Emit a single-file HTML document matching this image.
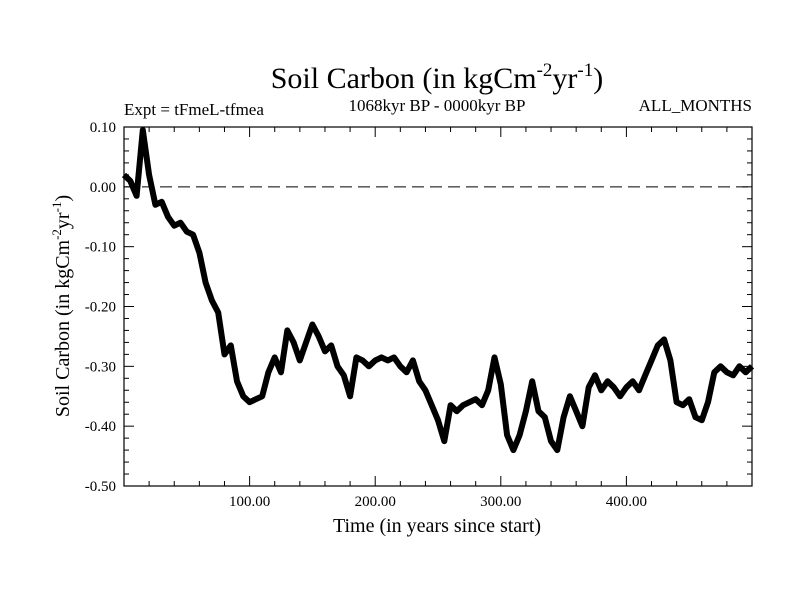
<!DOCTYPE html>
<html><head><meta charset="utf-8"><style>
body{margin:0;background:#fff}
svg text{font-family:"Liberation Serif",serif;fill:#000}
</style></head><body>
<svg id="chart" width="800" height="600" viewBox="0 0 800 600" xmlns="http://www.w3.org/2000/svg">
<rect width="800" height="600" fill="#fff"/>
<text x="437" y="88" font-size="30" text-anchor="middle">Soil Carbon (in kgCm<tspan font-size="19" dy="-12">-2</tspan><tspan dy="12">yr</tspan><tspan font-size="19" dy="-12">-1</tspan><tspan dy="12">)</tspan></text>
<text x="124" y="115" font-size="17">Expt = tFmeL-tfmea</text>
<text x="437" y="111" font-size="17" text-anchor="middle">1068kyr BP - 0000kyr BP</text>
<text x="752" y="111" font-size="17" text-anchor="end">ALL_MONTHS</text>
<text x="437" y="532" font-size="20" text-anchor="middle">Time (in years since start)</text>
<text transform="translate(69,306) rotate(-90)" font-size="20" text-anchor="middle">Soil Carbon (in kgCm<tspan font-size="13" dy="-8">-2</tspan><tspan dy="8">yr</tspan><tspan font-size="13" dy="-8">-1</tspan><tspan dy="8">)</tspan></text>
<g id="ticks"></g>
<line id="zero" stroke="#000" stroke-width="1" stroke-dasharray="12,6"/>
<path id="series" fill="none" stroke="#000" stroke-width="6" stroke-linejoin="round"/>
<rect x="124" y="127" width="628" height="359" fill="none" stroke="#000" stroke-width="1.2"/>
</svg>
<script>
const years = [];
for (let i = 0; i <= 100; i++) years.push(i * 5);
const values = [0.02,0.01,-0.015,0.095,0.02,-0.03,-0.025,-0.05,-0.065,-0.06,-0.075,-0.08,-0.11,-0.16,-0.19,-0.21,-0.28,-0.265,-0.325,-0.35,
-0.36,-0.355,-0.35,-0.31,-0.285,-0.31,-0.24,-0.26,-0.29,-0.26,-0.23,-0.25,-0.275,-0.265,-0.3,-0.315,-0.35,-0.285,-0.29,-0.3,
-0.29,-0.285,-0.29,-0.285,-0.3,-0.31,-0.29,-0.325,-0.34,-0.365,-0.39,-0.425,-0.365,-0.375,-0.365,-0.36,-0.355,-0.365,-0.34,-0.285,
-0.33,-0.415,-0.44,-0.415,-0.375,-0.325,-0.375,-0.385,-0.425,-0.44,-0.385,-0.35,-0.375,-0.4,-0.335,-0.315,-0.34,-0.325,-0.335,-0.35,
-0.335,-0.325,-0.34,-0.315,-0.29,-0.265,-0.255,-0.29,-0.36,-0.365,-0.355,-0.385,-0.39,-0.36,-0.31,-0.3,-0.31,-0.315,-0.3,-0.31,-0.3];
const xTickValues = [100,200,300,400];
const xTickLabels = ["100.00","200.00","300.00","400.00"];
const yTickValues = [0.1,0,-0.1,-0.2,-0.3,-0.4,-0.5];
const yTickLabels = ["0.10","0.00","-0.10","-0.20","-0.30","-0.40","-0.50"];

const X0=124,X1=752,Y0=127,Y1=486;
const xs = t => X0 + (t-0)/(500-0)*(X1-X0);
const ys = v => Y0 + (0.1-v)/(0.1+0.5)*(Y1-Y0);
const NS="http://www.w3.org/2000/svg";
const g=document.getElementById('ticks');
function line(x1,y1,x2,y2){const l=document.createElementNS(NS,'line');l.setAttribute('x1',x1);l.setAttribute('y1',y1);l.setAttribute('x2',x2);l.setAttribute('y2',y2);l.setAttribute('stroke','#000');l.setAttribute('stroke-width','1');


g.appendChild(l);}
function txt(x,y,s,anchor,name){const t=document.createElementNS(NS,'text');t.setAttribute('x',x);t.setAttribute('y',y);t.setAttribute('font-size','15');t.setAttribute('text-anchor',anchor);t.textContent=s;


g.appendChild(t);}
for(let t=20;t<500;t+=20){const major=t%100===0;const L=major?10:5;const x=xs(t);line(x,Y1,x,Y1-L);line(x,Y0,x,Y0+L);}
for(let k=-25;k<=5;k++){const v=k*0.02;const major=k%5===0;const L=major?10:5;const y=ys(v);line(X0,y,X0+L,y);line(X1,y,X1-L,y);}
xTickValues.forEach((t,i)=>txt(xs(t),506,xTickLabels[i],'middle','x-tick-label'));
yTickValues.forEach((v,i)=>txt(X0-8,ys(v)+5,yTickLabels[i],'end','y-tick-label'));
const z=document.getElementById('zero');z.setAttribute('x1',X0);z.setAttribute('x2',X1);z.setAttribute('y1',ys(0));z.setAttribute('y2',ys(0));
document.getElementById('series').setAttribute('d',years.map((t,i)=>(i?'L':'M')+xs(t).toFixed(1)+','+ys(values[i]).toFixed(1)).join(''));
</script>
</body></html>
